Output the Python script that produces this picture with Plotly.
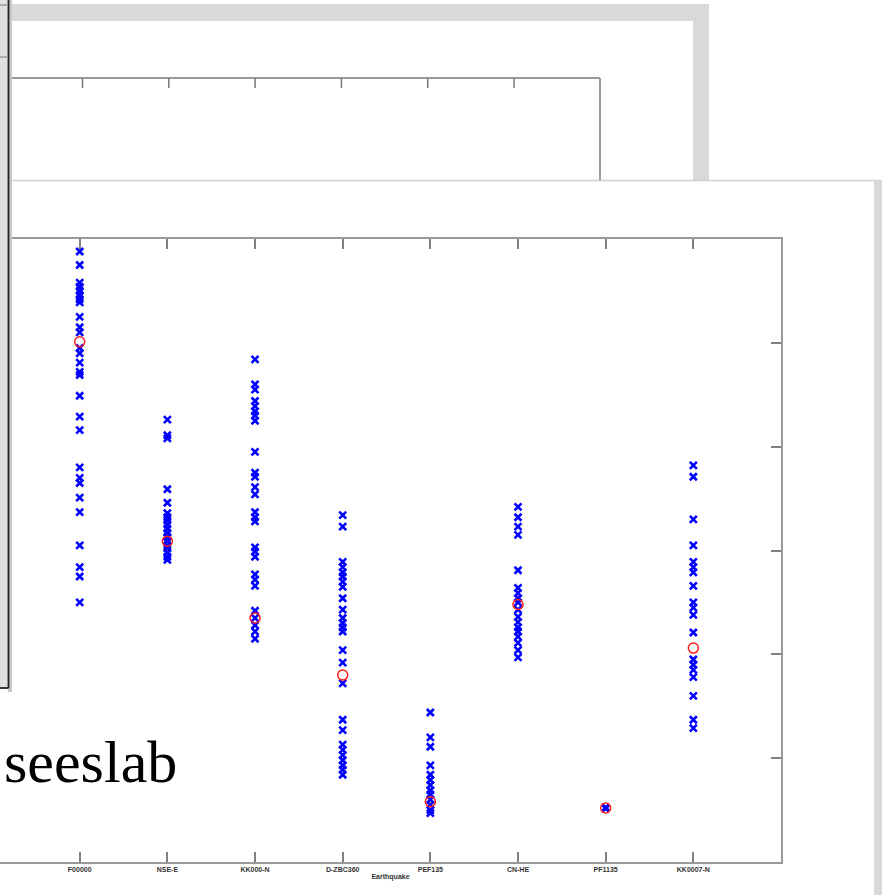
import plotly.graph_objects as go

W, H = 888, 895

# ---------------- data ----------------
quake_names = ["F00000", "NSE-E", "KK000-N", "D-ZBC360", "PEF135", "CN-HE", "PF1135", "KK0007-N"]
x_title = "Earthquake"

eq1_vals = [5.88, 5.75, 5.58, 5.54, 5.50, 5.46, 5.42, 5.39, 5.25, 5.15, 5.10, 4.95, 4.90, 4.81,
            4.72, 4.69, 4.49, 4.29, 4.16, 3.80, 3.70, 3.65, 3.51, 3.37, 3.05, 2.84, 2.75, 2.50]
eq2_vals = [4.26, 4.11, 4.08, 3.59, 3.46, 3.36, 3.32, 3.29, 3.25, 3.21, 3.17, 3.13, 3.09, 3.05,
            3.02, 2.98, 2.94, 2.91]
eq3_vals = [4.84, 4.60, 4.55, 4.44, 4.39, 4.34, 4.30, 4.25, 3.95, 3.75, 3.71, 3.61, 3.54, 3.37,
            3.32, 3.28, 3.03, 2.99, 2.94, 2.77, 2.72, 2.66, 2.42, 2.35, 2.28, 2.22, 2.15]
eq4_vals = [3.34, 3.23, 2.89, 2.84, 2.79, 2.75, 2.70, 2.65, 2.54, 2.43, 2.35, 2.30, 2.26, 2.22,
            2.04, 1.92, 1.72, 1.37, 1.27, 1.13, 1.08, 1.03, 0.98, 0.93, 0.89, 0.84]
eq5_vals = [1.44, 1.20, 1.11, 0.93, 0.84, 0.79, 0.74, 0.69, 0.65, 0.60, 0.55, 0.50, 0.47]
eq6_vals = [3.42, 3.32, 3.23, 3.15, 2.81, 2.64, 2.59, 2.54, 2.50, 2.43, 2.36, 2.31, 2.26, 2.22,
            2.17, 2.11, 2.04, 1.97]
eq7_vals = [0.52, 0.52, 0.52, 0.52, 0.52, 0.52]
eq8_vals = [3.82, 3.71, 3.30, 3.05, 2.89, 2.84, 2.79, 2.66, 2.50, 2.45, 2.38, 2.21, 1.95, 1.90,
            1.85, 1.78, 1.60, 1.37, 1.29]
mean_vals = [5.01, 3.09, 2.35, 1.80, 0.58, 2.48, 0.52, 2.06]

y_ticks = [0, 1, 2, 3, 4, 5, 6]
back_tick_pos = [1, 2, 3, 4, 5, 6]

all_vals = [eq1_vals, eq2_vals, eq3_vals, eq4_vals, eq5_vals, eq6_vals, eq7_vals, eq8_vals]

# ---------------- helpers ----------------
def X(px):
    return px / W


def Y(py):
    return 1 - py / H


def rect(x0, y0, x1, y1, fill, layer="below", line=None):
    d = dict(type="rect", xref="paper", yref="paper", x0=X(x0), x1=X(x1), y0=Y(y1), y1=Y(y0),
             fillcolor=fill, layer=layer, line=dict(width=0))
    if line:
        d["line"] = line
    return d


def seg(x0, y0, x1, y1, color, width, layer="below"):
    return dict(type="line", xref="paper", yref="paper", x0=X(x0), x1=X(x1), y0=Y(y0), y1=Y(y1),
                line=dict(color=color, width=width), layer=layer)


fig = go.Figure()

xs, ys = [], []
for i, vals in enumerate(all_vals):
    xs += [i + 1] * len(vals)
    ys += vals

fig.add_trace(go.Scatter(
    x=xs, y=ys, mode="markers",
    marker=dict(symbol="x-thin-open", size=7, color="#0000ff", line=dict(color="#1010ff", width=2.6)),
    showlegend=False,
))
fig.add_trace(go.Scatter(
    x=list(range(1, len(mean_vals) + 1)), y=mean_vals, mode="markers",
    marker=dict(symbol="circle-open", size=10, color="#ff2020", line=dict(color="#ff2020", width=1.5)),
    showlegend=False,
))

shapes = []
# back window
shapes.append(rect(12, 4, 709, 180, "#d9d9d9"))
shapes.append(rect(12, 21, 693, 180, "#ffffff"))
# back axes
spacing_back = 86.3
shapes.append(seg(12, 78, 600, 78, "#9a9a9a", 2))
shapes.append(seg(600, 78, 600, 180, "#9a9a9a", 2))
for p in back_tick_pos:
    xp = 82.5 + (p - 1) * spacing_back
    shapes.append(seg(xp, 78, xp, 88, "#777777", 1.5))
# front window
shapes.append(rect(12, 180, 874, 895, "#ffffff"))
shapes.append(seg(12, 180.5, 882, 180.5, "#d0d0d0", 1.5))
shapes.append(rect(874, 180, 882, 895, "#d9d9d9"))
# left panel (above everything)
shapes.append(rect(8, 0, 12, 692, "#c8c8c8", layer="above"))
shapes.append(rect(0, 0, 8.5, 688, "#e0e0e0", layer="above"))
shapes.append(seg(8.5, 0, 8.5, 688, "#222222", 1.8, layer="above"))
shapes.append(seg(0, 688, 8.5, 688, "#222222", 1.8, layer="above"))
shapes.append(seg(0, 5, 8, 5, "#9a9a9a", 1.5, layer="above"))
shapes.append(seg(0, 57, 8, 57, "#9a9a9a", 1.5, layer="above"))

x_left_px, x1_px, x9_px = 0, 79.7, 781
spacing = (x9_px - x1_px) / 8
x_min = 1 - (x1_px - x_left_px) / spacing

fig.update_layout(
    width=W, height=H, autosize=False,
    margin=dict(l=0, r=0, t=0, b=0),
    paper_bgcolor="#ffffff", plot_bgcolor="rgba(0,0,0,0)",
    shapes=shapes,
    xaxis=dict(
        domain=[0, x9_px / W], range=[x_min, 9],
        tickvals=list(range(1, len(quake_names) + 1)),
        ticktext=["<b>%s</b>" % n for n in quake_names],
        tickfont=dict(family="Liberation Sans", size=7, color="#333333"),
        ticks="inside", ticklen=10, tickwidth=1.5, tickcolor="#808080",
        showline=True, linecolor="#9a9a9a", linewidth=2, mirror="ticks",
        showgrid=False, zeroline=False,
        title=dict(text="<b>%s</b>" % x_title, font=dict(family="Liberation Sans", size=7, color="#333333"),
                   standoff=2),
    ),
    yaxis=dict(
        domain=[Y(862), Y(239)], range=[0, 6], side="right",
        tickvals=y_ticks, showticklabels=False,
        ticks="inside", ticklen=10, tickwidth=1.5, tickcolor="#808080",
        showline=True, linecolor="#9a9a9a", linewidth=2, mirror=False,
        showgrid=False, zeroline=False,
    ),
    annotations=[dict(
        text="seeslab", xref="paper", yref="paper", x=X(2), y=Y(797),
        xanchor="left", yanchor="bottom", showarrow=False,
        font=dict(family="Liberation Serif", size=60, color="#000000"),
    )],
)

fig.write_html("out.html")
